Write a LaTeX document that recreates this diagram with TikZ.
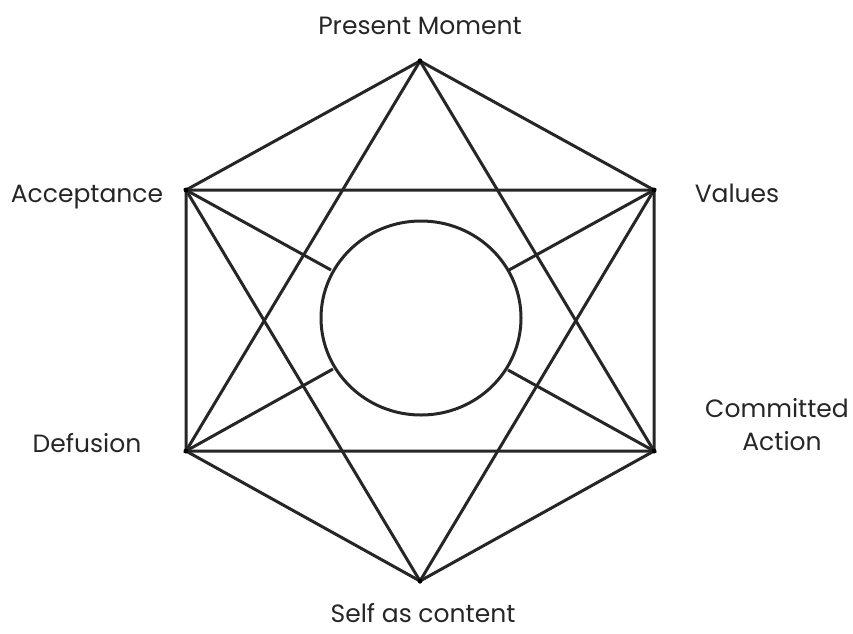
\documentclass[tikz,border=0pt]{standalone}
\usepackage{fontspec}
\setmainfont{Poppins}
\begin{document}
\begin{tikzpicture}[x=1pt,y=-1pt,
  edge/.style={line width=3pt,draw=black!85},
  lbl/.style={font=\fontsize{25}{29}\selectfont,text=black!85,inner sep=0pt,anchor=base},
  vdot/.style={circle,fill=black,inner sep=0pt,minimum size=5pt}]
\useasboundingbox (0,0) rectangle (853,633);
\coordinate (T) at (420,61);
\coordinate (UL) at (186,190);
\coordinate (UR) at (654,190);
\coordinate (LL) at (186,451);
\coordinate (LR) at (654,451);
\coordinate (B) at (420,581);
\coordinate (C) at (421,318);
% circle
\draw[edge] (C) ellipse [x radius=100, y radius=97];
% spokes
\coordinate (sUL) at (331,270);
\coordinate (sUR) at (509,270);
\coordinate (sLL) at (333,369);
\coordinate (sLR) at (508,370);
\draw[edge] (UL) -- (sUL);
\draw[edge] (UR) -- (sUR);
\draw[edge] (LL) -- (sLL);
\draw[edge] (LR) -- (sLR);
% hexagon
\draw[edge,line join=miter] (T) -- (UR) -- (LR) -- (B) -- (LL) -- (UL) -- cycle;
% triangles
\draw[edge,line join=miter] (T) -- (LL) -- (LR) -- cycle;
\draw[edge,line join=miter] (B) -- (UL) -- (UR) -- cycle;
% vertex dots
\foreach \p in {T,UL,UR,LL,LR,B} \node[vdot] at (\p) {};
% labels
\node[lbl] (pm) at (420,34) {Present Moment};
\node[lbl] (ac) at (87,202) {Acceptance};
\node[lbl] (va) at (737,202) {Values};
\node[lbl] (ca1) at (777,417) {Committed};
\node[lbl] (ca2) at (782,450) {Action};
\node[lbl] (de) at (87,452) {Defusion};
\node[lbl] (sc) at (423,622) {Self as content};
\end{tikzpicture}
\end{document}
